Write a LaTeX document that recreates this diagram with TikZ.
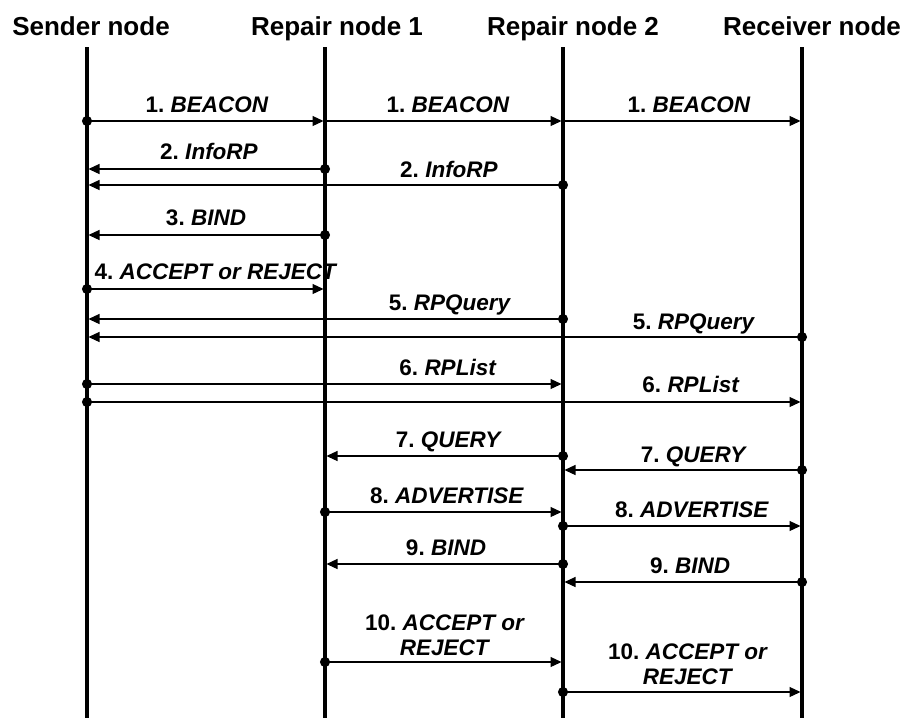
\documentclass[tikz,border=0pt]{standalone}
\usepackage{fontspec}
\setmainfont{Liberation Sans}
\usetikzlibrary{arrows.meta}
\frenchspacing

\tikzset{
    head/.style={anchor=base,font=\bfseries\fontsize{26}{30}\selectfont},
    lbl/.style={anchor=base,align=center,inner sep=0pt,
        font=\bfseries\fontsize{22.5}{25}\selectfont},
    life/.style={line width=4.5pt},
    msg/.style={line width=1.2pt,-{Triangle[length=11pt,width=10pt]},shorten >=1.5pt},
    dotmsg/.style={msg,{Circle[length=10pt]}-{Triangle[length=11pt,width=10pt]},shorten <=-5pt}
}

\begin{document}
\begin{tikzpicture}[x=1pt,y=-1pt]

\useasboundingbox (0,0) rectangle (907,718);

% Noms des noeuds
\node[head] (sndname) at (91,35) {Sender node};
\node[head] (rp1name) at (337,35) {Repair node 1};
\node[head] (rp2name) at (573,35) {Repair node 2};
\node[head] (rcvname) at (812,35) {Receiver node};

% Lignes de vie
\coordinate (snd) at (87,47);
\coordinate (rp1) at (325,47);
\coordinate (rp2) at (563,47);
\coordinate (rcv) at (802,47);

\foreach \n in {snd,rp1,rp2,rcv}
{
    \draw[life]
    (\n)
    --
    (\n |- 0,718);
}

% Messages
\foreach \a/\b/\y/\s in {
    snd/rp1/121/dotmsg, rp1/rp2/121/msg, rp2/rcv/121/msg,
    rp1/snd/169/dotmsg, rp2/snd/185/dotmsg,
    rp1/snd/235/dotmsg,
    snd/rp1/289/dotmsg,
    rp2/snd/319/dotmsg, rcv/snd/337/dotmsg,
    snd/rp2/384/dotmsg, snd/rcv/402/dotmsg,
    rp2/rp1/456/dotmsg, rcv/rp2/470/dotmsg,
    rp1/rp2/512/dotmsg, rp2/rcv/526/dotmsg,
    rp2/rp1/564/dotmsg, rcv/rp2/582/dotmsg,
    rp1/rp2/662/dotmsg, rp2/rcv/692/dotmsg}
{
    \draw[\s]
    (\a |- 0,\y)
    --
    (\b |- 0,\y);
}

% Etiquettes
\foreach \i/\x/\y/\t in {
    1a/207/112/{1. \textit{BEACON}},
    1b/448/112/{1. \textit{BEACON}},
    1c/689/112/{1. \textit{BEACON}},
    2a/209/159/{2. \textit{InfoRP}},
    2b/449/177/{2. \textit{InfoRP}},
    3/206/225/{3. \textit{BIND}},
    4/216/279/{4. \textit{ACCEPT or REJECT}},
    5a/450/310/{5. \textit{RPQuery}},
    5b/694/329/{5. \textit{RPQuery}},
    6a/448/375/{6. \textit{RPList}},
    6b/691/392/{6. \textit{RPList}},
    7a/449/447/{7. \textit{QUERY}},
    7b/694/462/{7. \textit{QUERY}},
    8a/447/503/{8. \textit{ADVERTISE}},
    8b/692/517/{8. \textit{ADVERTISE}},
    9a/446/555/{9. \textit{BIND}},
    9b/690/573/{9. \textit{BIND}},
    10a/445/655/{10. \textit{ACCEPT or}\\\textit{REJECT}},
    10b/688/684/{10. \textit{ACCEPT or}\\\textit{REJECT}}}
{
    \node[lbl] (m\i)
    at (\x,\y)
    {\t};
}

\end{tikzpicture}
\end{document}
